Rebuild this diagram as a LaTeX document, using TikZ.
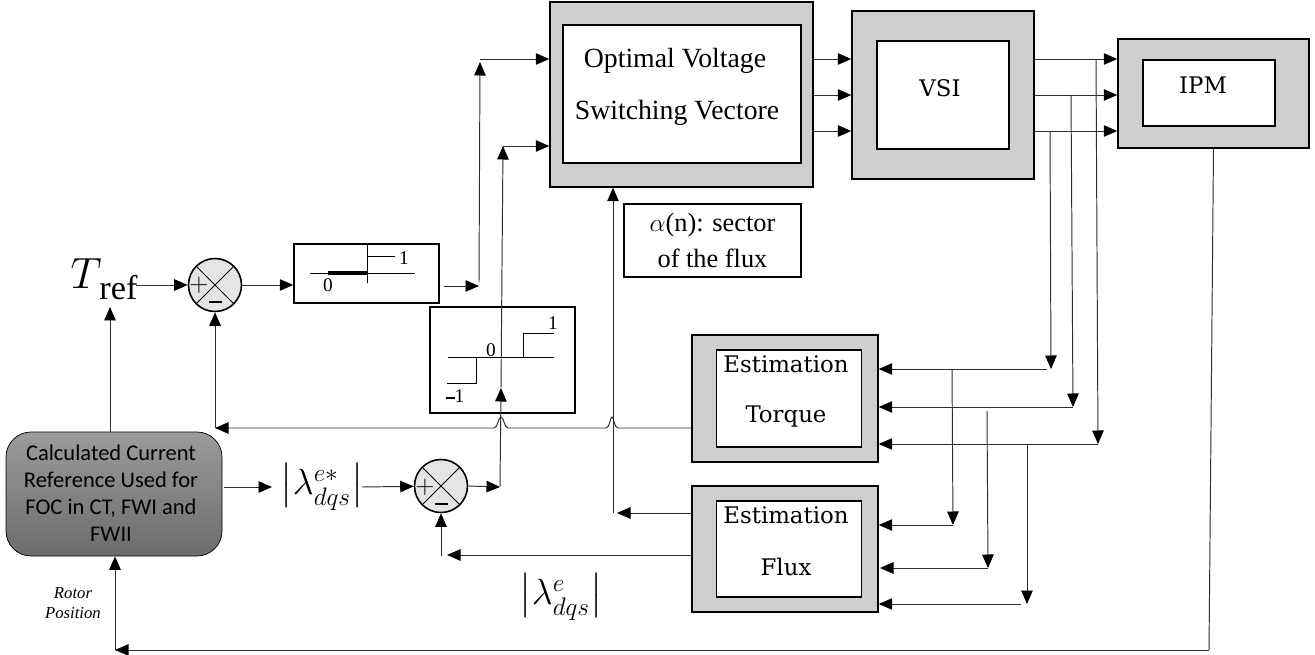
\documentclass[tikz,border=0pt]{standalone}
\usepackage{amsmath}
\usepackage{fontspec}
\setmainfont{Liberation Serif}
\newfontfamily\calcfont{Carlito}
\newfontfamily\blockfont{DejaVu Serif}
\usetikzlibrary{arrows.meta}
\definecolor{shell}{RGB}{208,206,206}
\definecolor{wire}{RGB}{45,45,45}
\definecolor{calctop}{RGB}{155,155,155}
\definecolor{calcbot}{RGB}{108,108,108}
\tikzset{
  wh/.style 2 args={minimum width=#1*0.2mm, minimum height=#2*0.2mm, inner sep=0pt},
  outerbox/.style={draw, line width=0.8pt, fill=shell},
  innerbox/.style={draw, line width=0.8pt, fill=white, align=center},
  plainbox/.style={draw, line width=0.8pt, fill=white, align=center},
  sumdot/.style={circle, draw, line width=0.9pt, fill=gray!20, minimum size=10.6mm, inner sep=0pt,
    path picture={\draw[line width=0.5pt]
      (path picture bounding box.north west) -- (path picture bounding box.south east)
      (path picture bounding box.north east) -- (path picture bounding box.south west);}},
  sig/.style={draw=wire, line width=0.55pt, -{Triangle[length=2.7mm,width=2.3mm,color=black,fill=black]}},
  wirel/.style={draw=wire, line width=0.55pt},
  curve/.style={line width=0.5pt},
  tiny/.style={font=\fontsize{11}{11}\selectfont, inner sep=0pt},
  signtxt/.style={font=\fontsize{14}{14}\selectfont, inner sep=0pt},
  blocktxt/.style={font=\blockfont\fontsize{13}{15}\selectfont, inner sep=0pt},
  vectxt/.style={font=\fontsize{15.8}{15.8}\selectfont, inner sep=0pt},
  lamtxt/.style={font=\fontsize{21}{21}\selectfont, inner sep=0pt},
}
\newcommand{\minusbar}{\rule[0.6mm]{2.6mm}{0.4mm}}
\begin{document}
\begin{tikzpicture}[x=0.2mm, y=-0.2mm]
  \useasboundingbox (0,0) rectangle (1315,655);
  % power stage
  \node[outerbox, wh={263}{185}] (opt) at (681.5,94.5) {};
  \node[innerbox, wh={238}{138}] (optin) at (682,94) {};
  \node[vectxt] (opta) at (675,61) {Optimal Voltage};
  \node[vectxt] (optb) at (677,113) {Switching Vectore};
  \node[outerbox, wh={182}{168}] (vsi) at (943,95) {};
  \node[innerbox, wh={132}{108}] (vsiin) at (943,95) {};
  \node[blocktxt] (vsitxt) at (940,88) {VSI};
  \node[outerbox, wh={191}{109}] (ipm) at (1213.5,93.5) {};
  \node[innerbox, wh={132}{66}] (ipmin) at (1209,93) {};
  \node[blocktxt] (ipmtxt) at (1203,85) {IPM};
  \node[plainbox, wh={177}{73}, font=\fontsize{15}{21}\selectfont] (sector) at (712.5,240.5)
       {$\alpha$(n): sector\\of the flux};
  % estimators
  \node[outerbox, wh={186}{127}] (tor) at (785,398.5) {};
  \node[innerbox, wh={145}{97}] (torin) at (789,398.5) {};
  \node[blocktxt] (tora) at (786,364) {Estimation};
  \node[blocktxt] (torb) at (786,417) {Torque};
  \node[outerbox, wh={186}{126}] (flx) at (785,549) {};
  \node[innerbox, wh={145}{96}] (flxin) at (789,549) {};
  \node[blocktxt] (flxa) at (786,515) {Estimation};
  \node[blocktxt] (flxb) at (786,567) {Flux};
  % reference block
  \node[draw, rounded corners=5mm, wh={216}{124}, top color=calctop, bottom color=calcbot] (calc) at (114,494) {};
  \node[align=center, inner sep=0pt, font=\calcfont\fontsize{12.8}{15.4}\selectfont] (calctxt) at (111,493)
       {Calculated Current\\Reference Used for\\FOC in CT, FWI and\\FWII};
  % torque loop
  \node[inner sep=0pt] (tref) at (104,279) {\fontsize{25}{25}\selectfont$T$\raisebox{-2.2mm}{\fontsize{19.5}{20}\selectfont\kern-1.2pt ref}};
  \node[sumdot] (sumt) at (215,285) {};
  \node[signtxt] (sumtp) at (199,285) {$+$};
  \node[signtxt] (sumtm) at (215,304) {\minusbar};
  \node[plainbox, wh={145}{59}] (rel) at (366.5,273.5) {};
  \node[tiny] (relone) at (404,258) {1};
  \node[tiny] (relzero) at (328,285) {0};
  \draw[curve] (310,273) -- (415,273) (367,244) -- (367,283) (367,256) -- (395,256);
  \draw[line width=2pt] (328,273) -- (367,273);
  % flux loop
  \node[lamtxt] (lamref) at (322,487) {$\left|\lambda^{e*}_{dqs}\right|$};
  \node[sumdot] (sumf) at (441,486) {};
  \node[signtxt] (sumfp) at (425,487) {$+$};
  \node[signtxt] (sumfm) at (441,505) {\minusbar};
  \node[plainbox, wh={145}{106}, fill=none] (hys) at (502.5,360) {};
  \node[tiny] (hysone) at (553,323) {1};
  \node[tiny] (hyszero) at (491,350) {0};
  \node[tiny] (hysmin) at (455,396) {\rule[0.7mm]{1.8mm}{0.35mm}1};
  \draw[curve] (448,357) -- (554,357) (523,357) -- (523,333) -- (554,333)
    (476,357) -- (476,383) -- (447,383);
  \node[lamtxt] (lamest) at (561,597) {$\left|\lambda^{e}_{dqs}\right|$};
  \node[font=\itshape\fontsize{9.5}{11.4}\selectfont, align=center, inner sep=0pt] (rotor) at (73,603) {Rotor\\Position};
  % free ends
  \coordinate (trefup) at (110,307);
  \coordinate (relout) at (479,286);
  \coordinate (sigt) at (480,59);
  \coordinate (fout) at (500,487);
  \coordinate (fmid) at (501,388);
  \coordinate (sigf) at (503,146);
  \coordinate (secup) at (613,513);
  \coordinate (fbt) at (215,428);
  \coordinate (fbf) at (441,556);
  \coordinate (rotc) at (115,650);
  \coordinate (ta) at (1051,369);
  \coordinate (tb) at (1073,407);
  \coordinate (tc) at (1098,444);
  \coordinate (fa) at (953,525);
  \coordinate (fb) at (988,568);
  \coordinate (fc) at (1027,604);
  % main path
  \draw[sig] (136,285) -- (sumt);
  \draw[sig] (sumt) ++(27,0) -- (rel.west |- sumt);
  \draw[sig] (444,286) -- (relout);
  \draw[sig] (relout |- 0,282) -- (sigt |- 0,62);
  \draw[sig] (sigt) -- (opt.west |- sigt);
  \draw[sig] (calc.east |- lamref) ++(2,0) -- (272,487);
  \draw[sig] (362,487) -- (sumf);
  \draw[sig] (sumf.east) -- (fout);
  \draw[sig] (fout) -- (fmid);
  \draw[sig] (fmid) -- (sigf);
  \draw[sig] (sigf) -- (opt.west |- sigf);
  \draw[sig] (calc.north -| trefup) -- (trefup);
  \draw[sig] (secup) -- (opt.south -| secup);
  % inverter links
  \foreach \yy in {59,95,131}{
    \draw[sig] (opt.east |- 0,\yy) -- (vsi.west |- 0,\yy);
    \draw[sig] (vsi.east |- 0,\yy) -- (ipm.west |- 0,\yy);
  }
  % current and voltage sensing
  \draw[sig] (1050,131) -- (ta);
  \draw[sig] (1071,95) -- (tb);
  \draw[sig] (1096,60) -- (tc);
  \draw[sig] (1047,369) -- (tor.east |- ta);
  \draw[sig] (tb) -- (tor.east |- tb);
  \draw[sig] (tc) -- (tor.east |- tc);
  \draw[sig] (952,369) -- (fa);
  \draw[sig] (987,411) -- (fb);
  \draw[sig] (1027,444) -- (fc);
  \draw[sig] (fa) -- (flx.east |- fa);
  \draw[sig] (fb) -- (880,568);
  \draw[sig] (1021,604) -- (flx.east |- fc);
  % feedback
  \draw[sig] (tor.west |- fbt) -- (618,428) .. controls (614,428) and (614,417) .. (612,417)
     .. controls (610,417) and (610,428) .. (606,428) -- (508,428)
     .. controls (504,428) and (504,417) .. (501,417) .. controls (498,417) and (498,428) .. (494,428)
     -- (fbt);
  \draw[sig] (fbt) -- (sumt);
  \draw[sig] (flx.west |- secup) -- (617,513);
  \draw[sig] (flx.west |- 0,555) -- (447,555);
  \draw[sig] (fbf) -- (sumf.south);
  \draw[wirel] (ipm.south) -- (1209,650);
  \draw[sig] (1209,650) -- (rotc);
  \draw[sig] (rotc) -- (calc.south -| rotc);
\end{tikzpicture}
\end{document}
